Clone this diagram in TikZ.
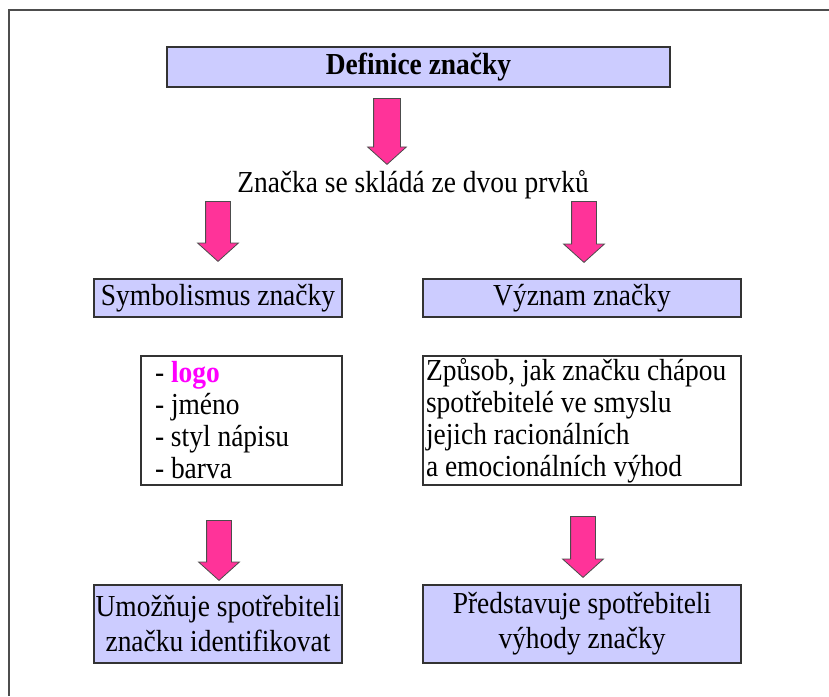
\documentclass[tikz,border=0pt]{standalone}
\usepackage{fontspec}
\setmainfont{Liberation Serif}[FakeStretch=0.9]
\usetikzlibrary{shapes.arrows}
\definecolor{boxfill}{HTML}{CCCCFF}
\definecolor{arrowpink}{HTML}{FF3399}
\definecolor{logomag}{HTML}{FF00FF}
\definecolor{frameline}{HTML}{4D4D4D}
\newcommand{\lefttext}[2]{\parbox[c]{#1}{\raggedright #2}}
\begin{document}
\begin{tikzpicture}[x=1pt,y=-1pt,
  txt/.style={font=\fontsize{30.5}{33}\selectfont},
  bluebox/.style={draw=black!80, line width=1.3pt, fill=boxfill, inner sep=0pt, align=center, txt},
  whitebox/.style={draw=black!80, line width=1.1pt, fill=white, inner sep=0pt, font=\fontsize{30.5}{32}\selectfont},
  blockarrow/.style={single arrow, draw=black!70, line width=0.8pt, fill=arrowpink,
    single arrow head extend=8pt, inner sep=12pt, single arrow tip angle=96,
    shape border rotate=270, anchor=tail}]
\useasboundingbox (0,0) rectangle (829,696);
% frame
\draw[frameline, line width=2pt] (829,10) -- (9,10) -- (9,696);
% boxes
\node[bluebox, minimum width=503pt, minimum height=40pt] (def) at (418.5,67) {\textbf{Definice značky}};
\node[txt, inner sep=0pt] (sub) at (413,185) {Značka se skládá ze dvou prvků};
\node[bluebox, minimum width=248pt, minimum height=38pt] (sym) at (218,298) {Symbolismus značky};
\node[bluebox, minimum width=318pt, minimum height=38pt] (vyz) at (582,298) {Význam značky};
\node[whitebox, minimum width=201pt, minimum height=129pt] (list) at (241.5,420.5)
  {\lefttext{173pt}{- \textcolor{logomag}{\textbf{logo}}\\- jméno\\- styl nápisu\\- barva}};
\node[whitebox, minimum width=318pt, minimum height=129pt] (mean) at (582,420.5)
  {\lefttext{312pt}{Způsob, jak značku chápou\\spotřebitelé ve smyslu\\jejich racionálních\\a emocionálních výhod}};
\node[bluebox, minimum width=248pt, minimum height=78pt, font=\fontsize{30.5}{35}\selectfont] (ident) at (218,624)
  {Umožňuje spotřebiteli\\značku identifikovat};
\node[bluebox, minimum width=318pt, minimum height=78pt, font=\fontsize{30.5}{35}\selectfont] (pred) at (582,624)
  {Představuje spotřebiteli\\výhody značky};
% block arrows (tail at top)
\node[blockarrow, minimum height=66pt, inner sep=13pt, single arrow head extend=6pt] (a1) at (387,98) {};
\node[blockarrow, minimum height=60pt] (a2) at (218,201) {};
\node[blockarrow, minimum height=61pt] (a3) at (584,201) {};
\node[blockarrow, minimum height=60pt] (a4) at (219,520) {};
\node[blockarrow, minimum height=61pt] (a5) at (583,516) {};
\end{tikzpicture}
\end{document}
